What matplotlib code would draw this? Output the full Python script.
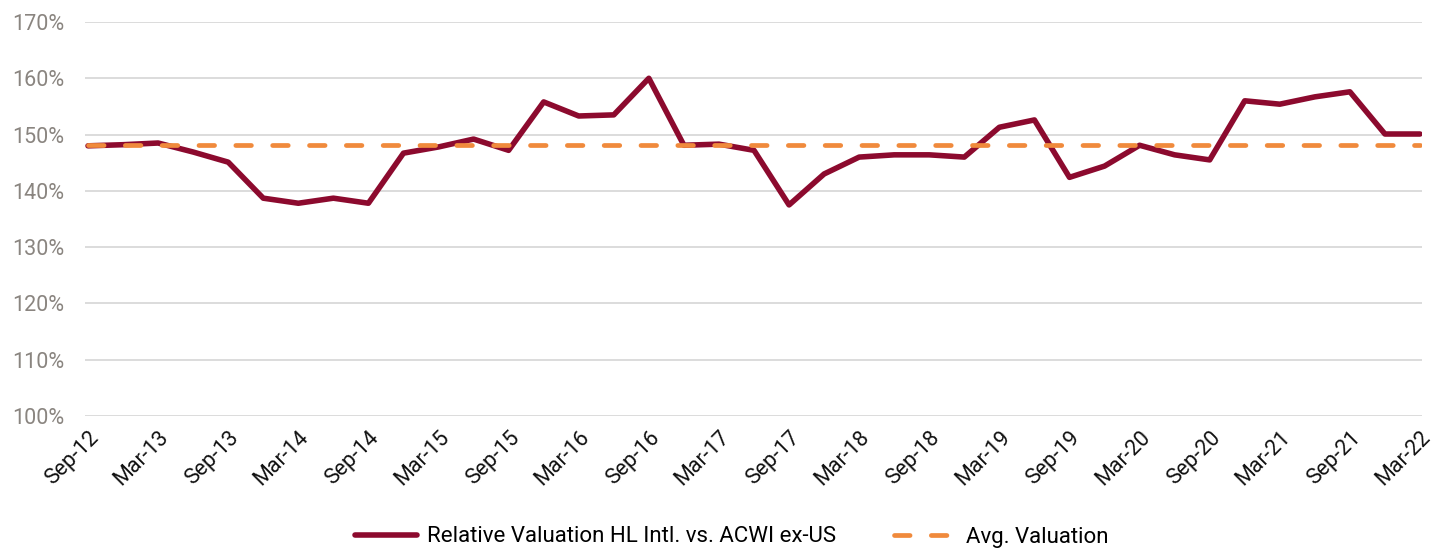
import matplotlib
matplotlib.use("Agg")
import matplotlib.pyplot as plt
from matplotlib import font_manager
import numpy as np

names = {f.name for f in font_manager.fontManager.ttflist}
FONT = [f for f in ["Roboto", "DejaVu Sans"] if f in names]
plt.rcParams['font.family'] = FONT

quarters = ["Sep-12", "Dec-12", "Mar-13", "Jun-13", "Sep-13", "Dec-13", "Mar-14", "Jun-14",
            "Sep-14", "Dec-14", "Mar-15", "Jun-15", "Sep-15", "Dec-15", "Mar-16", "Jun-16",
            "Sep-16", "Dec-16", "Mar-17", "Jun-17", "Sep-17", "Dec-17", "Mar-18", "Jun-18",
            "Sep-18", "Dec-18", "Mar-19", "Jun-19", "Sep-19", "Dec-19", "Mar-20", "Jun-20",
            "Sep-20", "Dec-20", "Mar-21", "Jun-21", "Sep-21", "Dec-21", "Mar-22"]
relative_valuation = [148.0, 148.2, 148.5, 146.9, 145.1, 138.7, 137.8, 138.7,
                      137.8, 146.7, 147.8, 149.2, 147.2, 155.8, 153.3, 153.5,
                      160.0, 148.1, 148.3, 147.2, 137.5, 143.0, 146.0, 146.4,
                      146.4, 146.0, 151.3, 152.6, 142.4, 144.4, 148.1, 146.4,
                      145.5, 156.0, 155.4, 156.7, 157.6, 150.1, 150.1]
avg_valuation = 148.1
tick_labels = quarters[::2]
y_ticks = [100, 110, 120, 130, 140, 150, 160, 170]

fig = plt.figure(figsize=(14.35, 5.48), dpi=100)
ax = fig.add_axes([85/1435, 1-416/548, (1422-85)/1435, (416-22)/548])

x = np.arange(len(quarters))
ax.plot(x, relative_valuation, color="#8C0A2E", lw=4.0, solid_joinstyle="round",
        solid_capstyle="round", label="Relative Valuation HL Intl. vs. ACWI ex-US", zorder=3)
ax.plot(x, [avg_valuation]*len(x), color="#F08A3C", lw=3.4, linestyle=(0, (3.3, 4.5)),
        dash_capstyle="round", label="Avg. Valuation", zorder=4)

ax.set_xlim(-3/35.05, 38 + 2/35.05)
ax.set_ylim(100, 170)
ax.set_yticks(y_ticks)
ax.set_yticklabels([f"{v}%" for v in y_ticks], color="#8A8580", fontsize=15.5)
ax.set_xticks(x[::2])
ax.set_xticklabels(tick_labels, rotation=45, ha="right", va="top",
                   rotation_mode="anchor", fontsize=15.5, color="#111111")
ax.tick_params(axis="both", length=0)
ax.tick_params(axis="y", pad=15)
ax.tick_params(axis="x", pad=8)
ax.grid(axis="y", color="#D9D9D9", lw=1.3)
ax.set_axisbelow(True)
for s in ax.spines.values():
    s.set_visible(False)

fig.legend(loc="center", bbox_to_anchor=(732/1435, 1-537/548), ncol=2, frameon=False,
           fontsize=16, handlelength=2.8, columnspacing=2.6, handletextpad=0.45)

fig.savefig("out.png", dpi=100)
